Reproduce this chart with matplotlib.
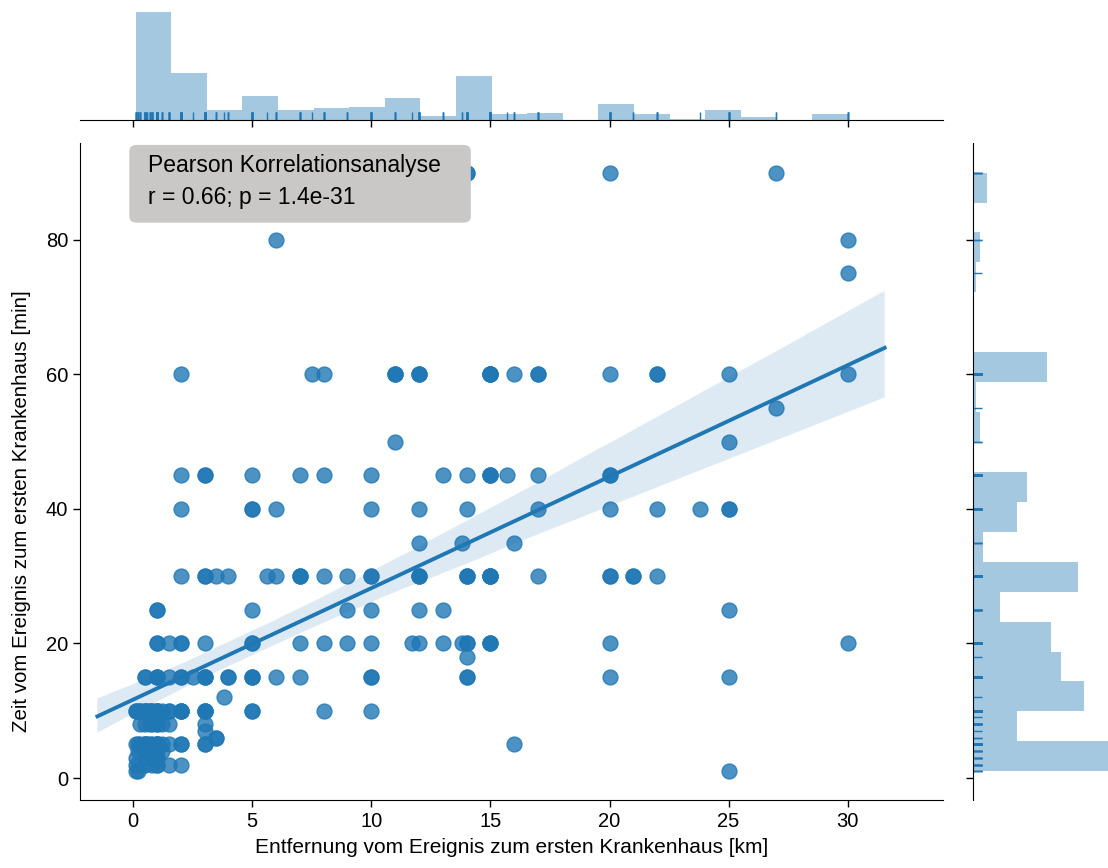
import numpy as np
import matplotlib
matplotlib.use("Agg")
import matplotlib.pyplot as plt
from matplotlib.patches import FancyBboxPatch
import seaborn as sns

plt.rcParams['font.family'] = ['Liberation Sans', 'DejaVu Sans']
plt.rcParams['font.size'] = 14.5

# ---- data: time to first hospital [min] -> list of distances [km]
distances_by_time = {
    90: [14, 14, 20, 27],
    80: [6, 30],
    75: [30],
    60: [2, 7.5, 8, 11, 11, 11, 12, 12, 12, 15, 15, 15, 15, 15, 16, 17, 17, 20, 22, 22, 25, 30],
    55: [27],
    50: [11, 25],
    45: [2, 3, 3, 5, 7, 8, 10, 13, 14, 15, 15, 15, 15.7, 17, 20, 20],
    40: [2, 5, 5, 6, 10, 12, 14, 17, 20, 22, 23.8, 25, 25],
    35: [12, 13.8, 16],
    30: [2, 3, 3, 3.5, 4, 5.6, 6, 7, 7, 7, 8, 9, 10, 10, 12, 12, 12, 14, 14, 14,
         15, 15, 15, 15, 15, 17, 20, 20, 21, 21, 22],
    25: [1, 1, 5, 9, 10, 12, 13, 25],
    20: [1, 1, 1.5, 2, 2, 3, 5, 5, 7, 8, 9, 10, 11.7, 12, 13, 13.8, 14, 14, 15, 15, 15, 20, 30],
    18: [14],
    15: [0.5, 0.5, 1, 1, 1, 1.5, 2, 2, 2.5, 3, 3, 3, 4, 4, 5, 5, 5, 6, 7, 10, 10, 14, 14, 20, 25],
    12: [3.8],
    10: [0.1, 0.1, 0.2, 0.3, 0.3, 0.5, 0.5, 0.5, 0.6, 0.7, 0.7, 0.8, 0.8, 1, 1, 1, 1, 1.2,
         1.5, 1.5, 2, 2, 2, 2, 3, 3, 3, 3, 5, 5, 8, 10],
    9: [0.8],
    8: [0.3, 0.5, 0.7, 0.8, 1, 1, 1.2, 1.5, 3],
    7: [3],
    6: [3.5, 3.5],
    5: [0.1, 0.2, 0.3, 0.5, 0.5, 0.5, 0.6, 0.7, 0.8, 1, 1, 1, 1, 1.2, 1.5, 2, 2, 3, 3, 16],
    4: [0.2, 0.5, 0.8, 1, 1.2],
    3: [0.1, 0.5, 0.8, 1, 1],
    2: [0.1, 0.5, 0.8, 1, 1, 1.5, 2],
    1: [0.1, 0.2, 25],
}

x_label = "Entfernung vom Ereignis zum ersten Krankenhaus [km]"
y_label = "Zeit vom Ereignis zum ersten Krankenhaus [min]"
annot_title = "Pearson Korrelationsanalyse"
annot_stats = "r = 0.66; p = 1.4e-31"
x_ticks = [0, 5, 10, 15, 20, 25, 30]
y_ticks = [0, 20, 40, 60, 80]

distance_km = np.array([d for t, ds in distances_by_time.items() for d in ds], dtype=float)
time_min = np.array([t for t, ds in distances_by_time.items() for d in ds], dtype=float)

C0 = '#1f77b4'
W, H = 1108, 868
fig = plt.figure(figsize=(W / 100, H / 100), dpi=100)

def frac(l, t, r, b):
    return [l / W, 1 - b / H, (r - l) / W, (b - t) / H]

ax = fig.add_axes(frac(80, 143, 943, 800))
axx = fig.add_axes(frac(80, 0, 943, 120))
axy = fig.add_axes(frac(973, 143, 1108, 800))

xlim = (-2.23, 34.0)
ylim = (-3.27, 94.4)

# joint regression plot
ax.set_xlim(-1.5, 31.55)
sns.regplot(x=distance_km, y=time_min, ax=ax, truncate=False, color=C0,
            scatter_kws=dict(s=115, alpha=0.8, linewidths=1.0),
            line_kws=dict(lw=2.8))
ax.set_xlim(*xlim)
ax.set_ylim(*ylim)
ax.set_xticks(x_ticks)
ax.set_yticks(y_ticks)
for s in ['top', 'right']:
    ax.spines[s].set_visible(False)
ax.set_xlabel(x_label, fontsize=15.0, labelpad=5)
ax.set_ylabel(y_label, fontsize=14.8, labelpad=11)
ax.yaxis.label.set_y(0.44)
ax.tick_params(labelsize=14.5, length=5, width=1)

# annotation box
box = FancyBboxPatch((0.058, 0.8798), 0.394, 0.1202 - 0.004,
                     boxstyle="round,pad=0,rounding_size=0.008",
                     transform=ax.transAxes, facecolor='#c9c8c6',
                     edgecolor='#c9c8c6', zorder=5, clip_on=False)
ax.add_patch(box)
ax.text(0.0788, 0.9665, annot_title, transform=ax.transAxes, fontsize=16.5,
        va='center', ha='left', zorder=6)
ax.text(0.0788, 0.9175, annot_stats, transform=ax.transAxes, fontsize=16.5,
        va='center', ha='left', zorder=6)

# marginal x
cx, ex, _ = axx.hist(distance_km, bins=20, color=C0, alpha=0.4, linewidth=0)
axx.set_xlim(*xlim)
axx.set_ylim(0, cx.max() * 1.11)
sns.rugplot(x=distance_km, ax=axx, height=0.07, color=C0, lw=1.5)
axx.set_xticks(x_ticks)
axx.set_xticklabels([])
axx.set_yticks([])
for s in ['top', 'right', 'left']:
    axx.spines[s].set_visible(False)
axx.tick_params(length=5, width=1)

# marginal y
cy, ey, _ = axy.hist(time_min, bins=20, orientation='horizontal', color=C0, alpha=0.4, linewidth=0)
axy.set_ylim(*ylim)
axy.set_xlim(0, cy.max())
sns.rugplot(y=time_min, ax=axy, height=0.07, color=C0, lw=1.5)
axy.set_yticks(y_ticks)
axy.set_yticklabels([])
axy.set_xticks([])
for s in ['top', 'right', 'bottom']:
    axy.spines[s].set_visible(False)
axy.tick_params(length=5, width=1)

fig.savefig('out.png', dpi=100)
